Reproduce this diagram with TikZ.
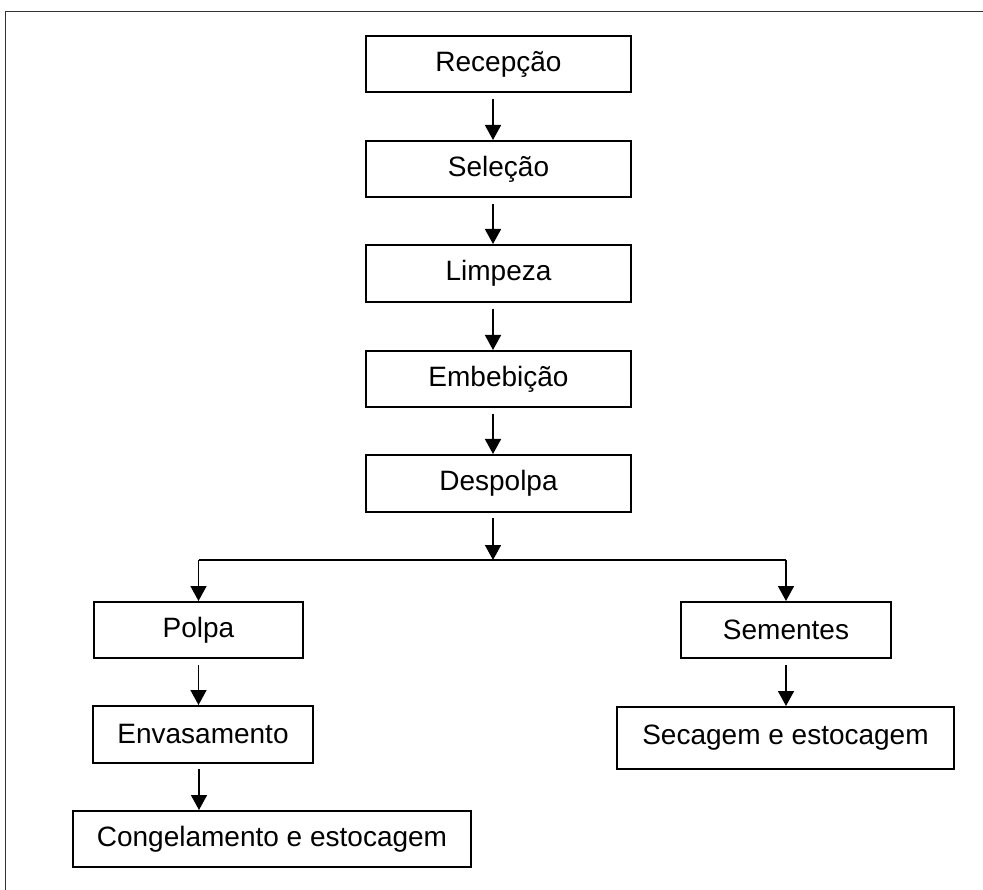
\documentclass[tikz,border=0pt]{standalone}
\usepackage{fontspec}
\setmainfont{Liberation Sans}
\usetikzlibrary{arrows.meta}
\begin{document}
\begin{tikzpicture}[x=1pt,y=-1pt,
  stepbox/.style={draw=black, line width=2pt, inner sep=0pt, anchor=center,
    font=\fontsize{28}{33}\selectfont},
  arr/.style={line width=1.6pt, -{Triangle[width=16pt,length=15pt]}},
  lin/.style={line width=1.6pt},
  frame/.style={line width=1.8pt, draw=black!80}]
\useasboundingbox (0,0) rectangle (983,890);
% frame (only top and left edges fall inside the picture)
\draw[frame] (5.5,890) -- (5.5,11.5) -- (983,11.5);
% main column
\node[stepbox, minimum width=265pt, minimum height=56pt] (rec) at (498.5,64) {Recepção};
\node[stepbox, minimum width=265pt, minimum height=56pt] (sel) at (498.5,169) {Seleção};
\node[stepbox, minimum width=265pt, minimum height=57pt] (lim) at (498.5,273.5) {Limpeza};
\node[stepbox, minimum width=265pt, minimum height=56pt] (emb) at (498.5,379) {Embebição};
\node[stepbox, minimum width=265pt, minimum height=57pt] (des) at (498.5,483.5) {Despolpa};
% branches
\node[stepbox, minimum width=209pt, minimum height=56pt] (pol) at (198.5,630) {Polpa};
\node[stepbox, minimum width=220pt, minimum height=57pt] (env) at (203,734.5) {Envasamento};
\node[stepbox, minimum width=398pt, minimum height=56pt] (con) at (272,839) {Congelamento e estocagem};
\node[stepbox, minimum width=210pt, minimum height=56pt] (sem) at (786,630) {Sementes};
\node[stepbox, minimum width=337pt, minimum height=62pt] (sec) at (785.5,738) {Secagem e estocagem};
% connectors in the main column
\draw[arr] ([xshift=-5.5pt,yshift=-6pt]rec.south) -- ([xshift=-5.5pt]sel.north);
\draw[arr] ([xshift=-5.5pt,yshift=-6pt]sel.south) -- ([xshift=-5.5pt]lim.north);
\draw[arr] ([xshift=-5.5pt,yshift=-6pt]lim.south) -- ([xshift=-5.5pt]emb.north);
\draw[arr] ([xshift=-5.5pt,yshift=-6pt]emb.south) -- ([xshift=-5.5pt]des.north);
% split
\coordinate (split) at (493,560);
\draw[arr] ([xshift=-5.5pt,yshift=-5pt]des.south) -- (split);
\draw[lin] (pol.north |- split) -- (sem.north |- split);
\draw[arr] (pol.north |- split) -- (pol.north);
\draw[arr] (sem.north |- split) -- (sem.north);
% left branch
\draw[arr] ([yshift=-6pt]pol.south) -- (pol.south |- env.north);
\draw[arr] ([xshift=-4pt,yshift=-5pt]env.south) -- ([xshift=-4pt]env.south |- con.north);
% right branch
\draw[arr] ([yshift=-6pt]sem.south) -- (sem.south |- sec.north);
\end{tikzpicture}
\end{document}
